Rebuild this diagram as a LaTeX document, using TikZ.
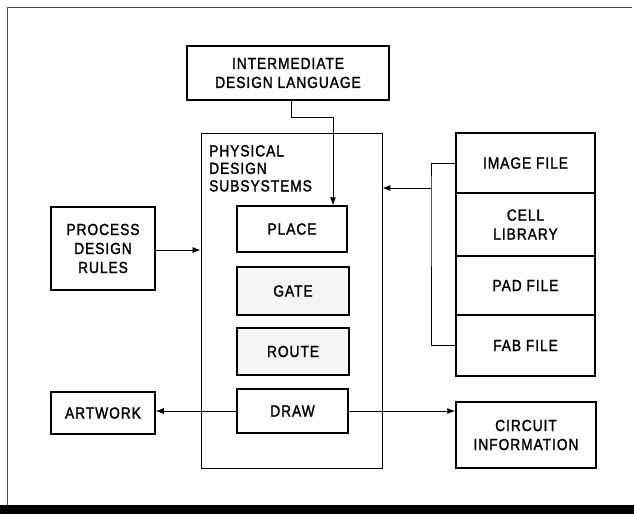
\documentclass[tikz,border=0pt]{standalone}
\usepackage{fontspec}
\newfontfamily\labfont{Liberation Sans}[FakeStretch=0.86, LetterSpace=6, FakeBold=1.6]
\usetikzlibrary{arrows.meta}
\tikzset{
  box/.style={draw, line width=1.5pt, inner sep=0pt, align=center,
    font=\labfont\fontsize{16}{19}\selectfont},
  shaded/.style={box, fill=black!4},
  conn/.style={line width=0.8pt},
  arr/.style={conn, -{Latex[length=8pt,width=6pt]}},
}
\begin{document}
\begin{tikzpicture}[x=1pt,y=-1pt]
  \useasboundingbox (0,0) rectangle (634,514);
  % page frame
  \draw[line width=0.8pt, black!70] (7,505) -- (7,7) -- (632,7);
  \fill (0,505) rectangle (634,514);

  % physical design subsystems enclosure
  \node[draw, line width=0.9pt, minimum width=181pt, minimum height=335pt, inner sep=0pt]
    (pds) at (291.5,300.5) {};
  \node[anchor=north west, inner sep=0pt, align=left,
        font=\labfont\fontsize{16}{17.5}\selectfont]
    (pdslabel) at (209,145) {PHYSICAL\\DESIGN\\SUBSYSTEMS};

  \node[box, minimum width=202pt, minimum height=54pt] (idl) at (288,73)
    {INTERMEDIATE\\DESIGN LANGUAGE};
  \node[box, minimum width=110pt, minimum height=46pt] (place) at (292,229) {PLACE};
  \node[shaded, minimum width=112pt, minimum height=48pt] (gate) at (293,291) {GATE};
  \node[shaded, minimum width=112pt, minimum height=47pt] (route) at (293,351.5) {ROUTE};
  \node[box, minimum width=111pt, minimum height=44pt] (drw) at (292.5,411) {DRAW};

  \node[box, minimum width=104pt, minimum height=83pt] (rules) at (103,248.5)
    {PROCESS\\DESIGN\\RULES};
  \node[box, minimum width=104pt, minimum height=42pt] (art) at (103,413) {ARTWORK};

  % input files
  \node[box, minimum width=139pt, minimum height=60pt] (img) at (525.5,163) {IMAGE FILE};
  \node[box, minimum width=139pt, minimum height=63pt] (cell) at (525.5,224.5) {CELL\\LIBRARY};
  \node[box, minimum width=139pt, minimum height=59pt] (pad) at (525.5,285.5) {PAD FILE};
  \node[box, minimum width=139pt, minimum height=61pt] (fab) at (525.5,345.5) {FAB FILE};

  \node[box, minimum width=140pt, minimum height=66pt] (circ) at (526,435)
    {CIRCUIT\\INFORMATION};

  % connectors
  \coordinate (bend) at (431,188);
  \draw[arr] (idl.south -| 291,0) -- (291,117) -- (333,117) -- (place.north -| 333,0);
  \draw[arr] (rules.east |- 0,250) -- (pds.west |- 0,250);
  \draw[conn] (img.west) -| (bend) |- (fab.west);
  \draw[arr] (bend) -- (pds.east |- bend);
  \draw[arr] (drw.west) -- (art.east |- drw.west);
  \draw[arr] (drw.east) -- (circ.west |- drw.east);
\end{tikzpicture}
\end{document}
